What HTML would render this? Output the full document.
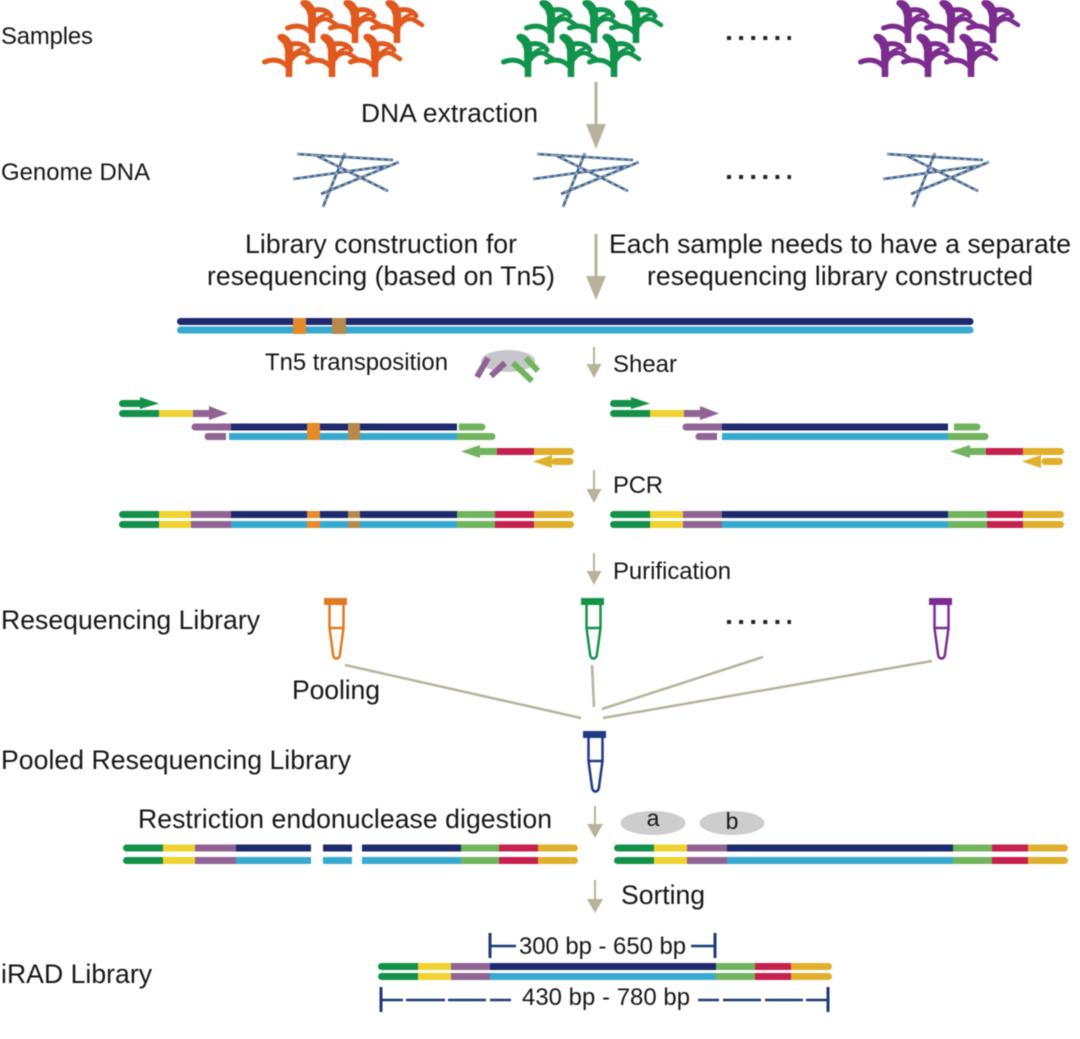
<!DOCTYPE html>
<html><head><meta charset="utf-8"><style>
html,body{margin:0;padding:0;background:#fff}
svg{display:block;filter:blur(.4px)}
text{font-family:"Liberation Sans",sans-serif;fill:#161616}
.b line,.b{stroke-width:7;fill:none}
.r{stroke-linecap:round}
.g{stroke:#13914a}.y{stroke:#f0d330}.p{stroke:#8f6394}.n{stroke:#1d2a6e}.c{stroke:#38a9d0}.l{stroke:#72b45e}.m{stroke:#c6204f}.o{stroke:#e0b02d}
.a{stroke:#b9b29a;fill:none}
</style></head><body>
<svg width="1080" height="1039" viewBox="0 0 1080 1039" xmlns="http://www.w3.org/2000/svg">
<defs>
<g id="plant" fill="none" stroke-linecap="round">
<path d="M-3.300,0 L-3.300,-10 L-4,-20 L-4,-27 L-6,-33 L-11,-38 C-13,-41 -10,-44 -6,-43 C-1,-42 3,-37 4,-30 L4.500,-22 L3.300,-12 L3.300,0Z" fill="currentColor" stroke="none"/>
<path d="M-24.500,-15 C-18,-17.500 -9,-18.500 -2,-11" stroke="currentColor" stroke-width="5"/>
<path d="M3,-18 C7,-24 13,-25 17,-23 C20,-21.500 22,-20 25,-18" stroke="currentColor" stroke-width="4.500"/>
<path d="M3,-33 C9,-34 16,-33 19,-27" stroke="currentColor" stroke-width="5"/>
<path d="M3,-22 C6,-25 10,-28 15,-29" stroke="currentColor" stroke-width="3"/>
</g>
<g id="plants">
<use href="#plant" x="312" y="43"/><use href="#plant" x="355" y="43"/><use href="#plant" x="397" y="43"/>
<use href="#plant" x="289" y="77"/><use href="#plant" x="332" y="77"/><use href="#plant" x="375" y="77"/>
</g>
<g id="dna" fill="none">
<g stroke="#3f6289" stroke-width="2.600">
<path d="M297,154 L393,160M293,179 L387,166M345,153 L323,207M315,155 L388,191M399,162 L321,194"/>
</g>
<g stroke="#dfe6ee" stroke-width="0.800" stroke-dasharray="3 4">
<path d="M297,154 L393,160M293,179 L387,166M345,153 L323,207M315,155 L388,191M399,162 L321,194"/>
</g>
</g>
<g id="tube" fill="none">
<rect x="324" y="598" width="23" height="7" fill="currentColor"/>
<path d="M329.500,605 L329.500,628 L333,654 A3.500,4.500 0 0 0 340,654 L343.500,628 L343.500,605 M329.500,628 L343.500,628" stroke="currentColor" stroke-width="2.500"/>
</g>
<g id="fullL" class="b">
<path class="g r" d="M122.500,3.500H150M122.500,13.500H150"/><path class="o r" d="M545,3.500H570.500M545,13.500H570.500"/>
<path class="g" d="M140,3.500H159M140,13.500H159"/><path class="y" d="M159,3.500H191M159,13.500H191"/><path class="p" d="M191,3.500H231M191,13.500H231"/>
<path class="n" d="M231,3.500H457"/><path class="c" d="M231,13.500H457"/><path class="l" d="M457,3.500H495M457,13.500H495"/>
<path class="m" d="M495,3.500H534M495,13.500H534"/><path class="o" d="M534,3.500H550M534,13.500H550"/>
</g>
<g id="fullR" class="b">
<path class="g r" d="M3.500,3.500H30M3.500,13.500H30"/><path class="o r" d="M430,3.500H450.500M430,13.500H450.500"/>
<path class="g" d="M20,3.500H40M20,13.500H40"/><path class="y" d="M40,3.500H73M40,13.500H73"/><path class="p" d="M73,3.500H112M73,13.500H112"/>
<path class="n" d="M112,3.500H338"/><path class="c" d="M112,13.500H338"/><path class="l" d="M338,3.500H377M338,13.500H377"/>
<path class="m" d="M377,3.500H413M377,13.500H413"/><path class="o" d="M413,3.500H435M413,13.500H435"/>
</g>
<g id="frag">
<g class="b">
<path class="g r" d="M122.500,403.500H145M122.500,413.500H150"/>
<path class="y" d="M159,413.500H193"/><path class="p" d="M193,413.500H210"/><path class="g" d="M140,413.500H159"/>
<path class="p r" d="M195,427H225M208,436.500H222"/><path class="p" d="M215,427H231M215,436.500H226"/>
</g>
<path d="M140,397 L159,403.500 L140,409Z" fill="#13914a"/>
<path d="M209,406 L228,413.500 L209,420Z" fill="#8f6394"/>
</g>
</defs>

<g>
<use href="#plants" color="#e0591e"/>
<use href="#plants" x="239" color="#12934b"/>
<use href="#plants" x="596" color="#7b2d8e"/>
<use href="#dna"/><use href="#dna" x="240"/><use href="#dna" x="590"/>
</g>

<path d="M727,38H791M727,177H791M727,622H791" stroke="#222" stroke-width="4" stroke-dasharray="4 8.100" fill="none"/>

<!-- labels -->
<g font-size="23.900">
<text x="1" y="44" textLength="92">Samples</text>
<text x="1" y="180" textLength="149">Genome DNA</text>
<text x="361" y="122" font-size="26.300" textLength="177">DNA extraction</text>
<text x="245" y="253" font-size="26.600" textLength="272">Library construction for</text>
<text x="207" y="285" font-size="26.600" textLength="348">resequencing (based on Tn5)</text>
<text x="609" y="253" font-size="26.600" textLength="462">Each sample needs to have a separate</text>
<text x="647" y="285" font-size="26.600" textLength="386">resequencing library constructed</text>
<text x="265" y="370" textLength="183">Tn5 transposition</text>
<text x="613" y="372" textLength="64">Shear</text>
<text x="613" y="493" textLength="50">PCR</text>
<text x="613" y="579" textLength="118">Purification</text>
<text x="1" y="629" font-size="26.600" textLength="259">Resequencing Library</text>
<text x="292" y="699" font-size="26.600" textLength="88">Pooling</text>
<text x="1" y="769" font-size="26.600" textLength="350">Pooled Resequencing Library</text>
<text x="138" y="828" font-size="26.600" textLength="414">Restriction endonuclease digestion</text>
<text x="621" y="904" font-size="26.600" textLength="84">Sorting</text>
<text x="1" y="983" font-size="26.600" textLength="151">iRAD Library</text>
<text x="519" y="954" textLength="167">300 bp - 650 bp</text>
<text x="522" y="1005" textLength="168">430 bp - 780 bp</text>
</g>

<!-- arrows -->
<g class="a">
<path d="M596,82V130" stroke-width="3"/><path d="M596,234V282" stroke-width="3"/>
<path d="M594,347V366M594,470V491M594,553V573M595,806V826M595,880V901" stroke-width="2"/>
</g>
<g fill="#b9b29a">
<path d="M586,124H606L596,149Z"/><path d="M586,276H606L596,300Z"/>
<path d="M586.500,364H601.500L594,378Z"/><path d="M586.500,489H601.500L594,503Z"/><path d="M586.500,571H601.500L594,585Z"/>
<path d="M587,824H603L595,838Z"/><path d="M587,899H603L595,913Z"/>
</g>

<!-- long bar -->
<path class="b n r" d="M180.500,321.500H970"/><path class="b c r" d="M180.500,330H970"/>
<rect x="293" y="318" width="13" height="16" fill="#e68a2a"/><rect x="332" y="318" width="14" height="16" fill="#b58a4a"/>

<!-- Tn5 -->
<ellipse cx="508" cy="361" rx="27" ry="11" fill="#c6c6cc"/>
<path d="M488,358L477,377M505,363L491,376" stroke="#8f6394" stroke-width="6" fill="none"/>
<path d="M513,363L532,381M526,358L538,371" stroke="#72b45e" stroke-width="6" fill="none"/>

<!-- left fragment -->
<use href="#frag"/>
<g class="b">
<path class="n" d="M231,427H457"/><path class="c" d="M229,436.500H457"/>
<path class="l r" d="M462,427H482M470,436.500H492"/><path class="l" d="M459,427H470M457,436.500H480"/>
<path class="l" d="M478,451.500H497"/><path class="o r" d="M540,451.500H570.500M555,461.500H570"/>
<path class="m" d="M497,451.500H534"/><path class="o" d="M534,451.500H545"/>
</g>
<path d="M480,445L461,451.500L480,458Z" fill="#72b45e"/><path d="M552,455L533,461.500L552,468Z" fill="#e0b02d"/>
<rect x="307" y="423" width="13" height="17" fill="#e68a2a"/><rect x="348" y="423" width="12" height="17" fill="#b58a4a"/>

<!-- right fragment -->
<use href="#frag" x="491"/>
<g class="b">
<path class="n" d="M722,427H948"/><path class="c" d="M722,436.500H948"/>
<path class="l r" d="M960,427H977M970,436.500H985"/><path class="l" d="M954,427H965M948,436.500H975"/>
<path class="l" d="M969,451.500H986"/><path class="o r" d="M1030,451.500H1060.500M1045,461.500H1059.500"/>
<path class="m" d="M986,451.500H1023"/><path class="o" d="M1023,451.500H1035"/>
</g>
<path d="M970,445L950,451.500L970,458Z" fill="#72b45e"/><path d="M1041,455L1022,461.500L1041,468Z" fill="#e0b02d"/>

<!-- PCR products -->
<use href="#fullL" y="511"/>
<rect x="307" y="511" width="13" height="7" fill="#e68a2a"/><rect x="348" y="511" width="12" height="7" fill="#b58a4a"/>
<rect x="307" y="521" width="13" height="7" fill="#e68a2a"/><rect x="348" y="521" width="12" height="7" fill="#b58a4a"/>
<use href="#fullR" x="610" y="511"/>

<!-- tubes -->
<use href="#tube" color="#df7a20"/>
<use href="#tube" x="257" color="#12934b"/>
<use href="#tube" x="605" color="#7b2d8e"/>
<use href="#tube" x="259" y="133" color="#1c3a85"/>

<!-- pooling lines -->
<path d="M345,665L581,718M592,665L594,707M602,709L763,657M603,718L932,661" stroke="#b7b29c" stroke-width="2.500" fill="none"/>

<!-- enzymes -->
<ellipse cx="653" cy="823" rx="32.500" ry="12" fill="#cdcdcd"/>
<ellipse cx="732" cy="823" rx="32.500" ry="12" fill="#cdcdcd"/>
<text x="653" y="826" font-size="23" text-anchor="middle">a</text>
<text x="732" y="829" font-size="23" text-anchor="middle">b</text>

<!-- digest -->
<g class="b">
<path class="g r" d="M126.500,848H150M126.500,860.500H150"/><path class="o r" d="M550,848H574.500M550,860.500H574.500"/>
<path class="g" d="M145,848H163M145,860.500H163"/><path class="y" d="M163,848H195M163,860.500H195"/><path class="p" d="M195,848H236M195,860.500H236"/>
<path class="n" d="M236,848H311M323,848H352M362,848H461"/><path class="c" d="M236,860.500H311M323,860.500H352M362,860.500H461"/>
<path class="l" d="M461,848H499M461,860.500H499"/><path class="m" d="M499,848H538M499,860.500H538"/><path class="o" d="M538,848H555M538,860.500H555"/>
</g>
<g class="b">
<path class="g r" d="M617.500,848H640M617.500,860.500H640"/><path class="o r" d="M1040,848H1064.500M1040,860.500H1064.500"/>
<path class="g" d="M635,848H654M635,860.500H654"/><path class="y" d="M654,848H687M654,860.500H687"/><path class="p" d="M687,848H727M687,860.500H727"/>
<path class="n" d="M727,848H953"/><path class="c" d="M727,860.500H953"/>
<path class="l" d="M953,848H992M953,860.500H992"/><path class="m" d="M992,848H1028M992,860.500H1028"/><path class="o" d="M1028,848H1045M1028,860.500H1045"/>
</g>

<!-- iRAD -->
<use href="#fullR" x="378" y="963"/>
<g stroke="#1c3a75" fill="none">
<path d="M490,933V958M715,933V958M381,987V1012M828,987V1012" stroke-width="3"/>
<path d="M490,946H516M691,946H715M381,1000H403M406,1000H445M448,1000H486M490,1000H511M698,1000H719M723,1000H761M765,1000H803M806,1000H828" stroke-width="2.500"/>
</g>
</svg>
</body></html>
